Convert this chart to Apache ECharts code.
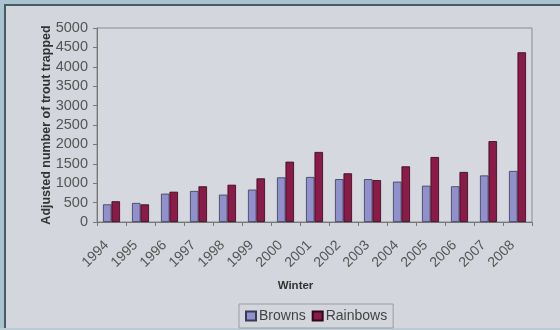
<!DOCTYPE html>
<html>
<head>
<meta charset="utf-8">
<script src="https://cdn.jsdelivr.net/npm/echarts@6/dist/echarts.min.js"></script>
<style>
html,body{margin:0;padding:0;background:#d3d6dc;}
#c{width:560px;height:330px;}
</style>
</head>
<body>
<div id="c"></div>
<script>
const categories = ['1994','1995','1996','1997','1998','1999','2000','2001','2002','2003','2004','2005','2006','2007','2008'];
const browns   = [455, 490, 730, 800, 705, 835, 1150, 1160, 1105, 1105, 1040, 935, 920, 1200, 1315];
const rainbows = [535, 455, 780, 920, 960, 1125, 1555, 1805, 1255, 1080, 1435, 1675, 1290, 2085, 4375];
const yTicks = [0, 500, 1000, 1500, 2000, 2500, 3000, 3500, 4000, 4500, 5000];
const yTitle = 'Adjusted number of trout trapped';
const xTitle = 'Winter';

const chart = echarts.init(document.getElementById('c'), null, {renderer: 'canvas'});
const font = 'Liberation Sans, Arial, sans-serif';
chart.setOption({
  backgroundColor: '#d3d6dc',
  animation: false,
  textStyle: {fontFamily: font},
  graphic: [
    {type: 'rect', shape: {x: 0, y: 0, width: 560, height: 4}, style: {fill: '#a9c3cf'}, silent: true},
    {type: 'rect', shape: {x: 0, y: 4, width: 560, height: 2}, style: {fill: '#4a5a63'}, silent: true},
    {type: 'rect', shape: {x: 0, y: 0, width: 4, height: 330}, style: {fill: '#a9c3cf'}, silent: true},
    {type: 'rect', shape: {x: 4, y: 4, width: 2, height: 326}, style: {fill: '#4a5a63'}, silent: true},
    {type: 'rect', shape: {x: 0, y: 328, width: 560, height: 2}, style: {fill: '#b9ccd6'}, silent: true},
    {type: 'text', x: 47, y: 125, rotation: Math.PI / 2, silent: true,
      style: {text: yTitle, fontSize: 12.5, fontWeight: 'bold', fill: '#333', fontFamily: font,
        align: 'center', verticalAlign: 'middle'}}
  ],
  grid: {
    left: 97, top: 28, right: 28, bottom: 108,
    show: true, borderColor: '#8a8d92', borderWidth: 1, backgroundColor: '#d5d8de'
  },
  legend: {
    data: ['Browns', 'Rainbows'],
    left: 239, top: 304,
    padding: [5, 6, 5, 6],
    itemGap: 6,
    itemWidth: 10, itemHeight: 9,
    icon: 'rect',
    borderColor: '#9a9da2', borderWidth: 1,
    textStyle: {fontSize: 14, color: '#444', fontFamily: font, padding: [0, 0, 0, -2]}
  },
  xAxis: {
    type: 'category',
    data: categories,
    name: xTitle,
    nameLocation: 'middle',
    nameGap: 58,
    nameTextStyle: {fontSize: 11.5, fontWeight: 'bold', color: '#333', fontFamily: font, padding: [0, 38, 0, 0]},
    axisLine: {lineStyle: {color: '#777', width: 1}},
    axisTick: {show: true, length: 4, lineStyle: {color: '#777'}},
    axisLabel: {rotate: 45, fontSize: 14, color: '#555', margin: 16, interval: 0, fontFamily: font, padding: [0, 7, 0, 0]}
  },
  yAxis: {
    type: 'value',
    min: 0, max: 5000, interval: 500,
    axisLine: {show: true, lineStyle: {color: '#777', width: 1}},
    axisTick: {show: true, length: 4, lineStyle: {color: '#777'}},
    splitLine: {show: false},
    axisLabel: {fontSize: 14.5, color: '#555', margin: 9, fontFamily: font,
      formatter: v => yTicks.includes(v) ? String(v) : ''}
  },
  series: [
    {name: 'Browns', type: 'bar', data: browns, barWidth: 8.5, barGap: '0%',
      itemStyle: {color: '#8f90cc', borderColor: '#3a3a55', borderWidth: 0.8}},
    {name: 'Rainbows', type: 'bar', data: rainbows, barWidth: 8.5,
      itemStyle: {color: '#8c1a48', borderColor: '#2a0a18', borderWidth: 0.8}}
  ]
});
</script>
</body>
</html>
